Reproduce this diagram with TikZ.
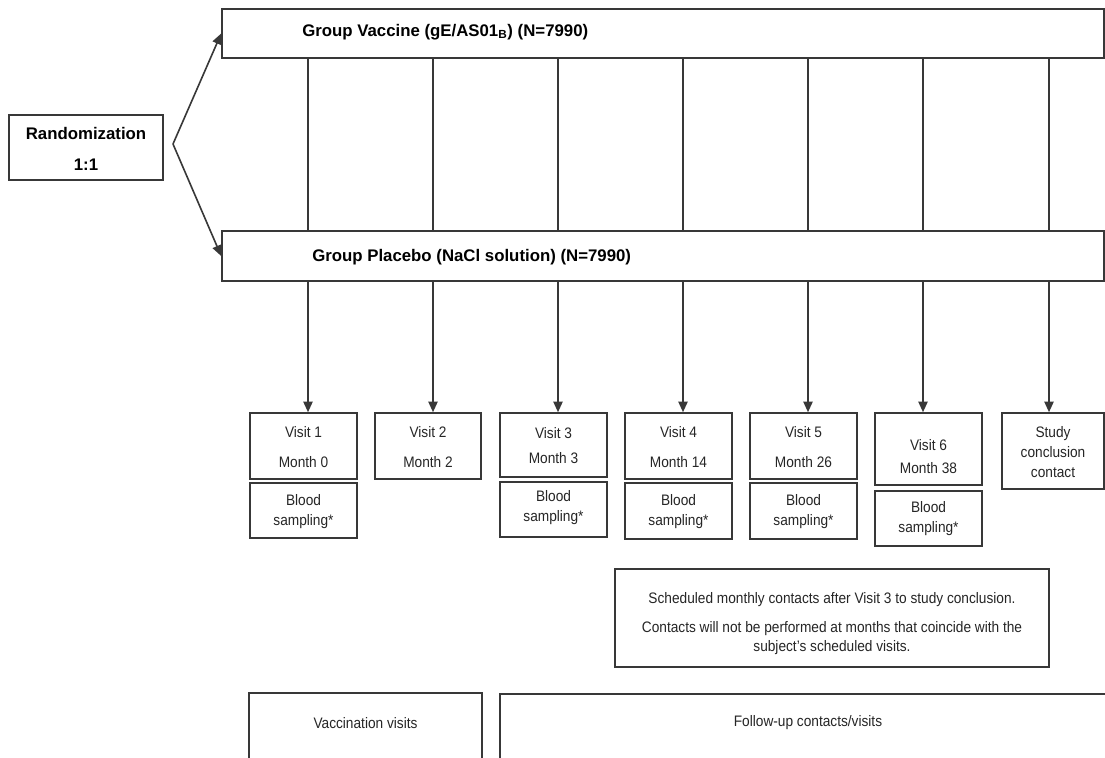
\documentclass[tikz,border=0pt]{standalone}
\usepackage{fontspec}
\setmainfont{Liberation Sans}
\newfontfamily\narrowfont[FakeStretch=0.9]{Liberation Sans}
\usetikzlibrary{arrows.meta,fit}
\begin{document}
\begin{tikzpicture}[x=0.75pt,y=-0.75pt,
  ln/.style={draw=black!78, line width=1.2pt},
  box/.style={ln, rectangle, inner sep=0pt},
  arr/.style={ln, -{Triangle[length=8pt,width=7pt]}},
  lbl/.style={inner sep=0pt, align=center, text=black!85},
  bold/.style={lbl, text=black, font=\bfseries\fontsize{12.6}{23.25}\selectfont},
  reg/.style={lbl, font=\narrowfont\fontsize{11.4}{#1}\selectfont},
  reg/.default=15pt
]
\fill[white] (0,0) rectangle (1105,757);
\useasboundingbox (0,0) rectangle (1105,757);

% column coordinates
\coordinate (c1) at (308,0);
\coordinate (c2) at (433,0);
\coordinate (c3) at (558,0);
\coordinate (c4) at (683,0);
\coordinate (c5) at (808,0);
\coordinate (c6) at (923,0);
\coordinate (c7) at (1049,0);
\coordinate (split) at (173,144);

% main boxes
\node[box, fit={(9,115)(163,180)}] (rand) {};
\node[bold] (randt) at (86,148.5) {Randomization\\1:1};
\node[box, fit={(222,9)(1104,58)}] (vac) {};
\node[bold, anchor=west] (vact) at (302,32) {Group Vaccine (gE/AS01\textsubscript{B}) (N=7990)};
\node[box, fit={(222,231)(1104,281)}] (pla) {};
\node[bold, anchor=west] (plat) at (312,257) {Group Placebo (NaCl solution) (N=7990)};

% randomization arrows
\draw[arr] (split) -- (vac.west);
\draw[arr] (split) -- (pla.west);

% visit boxes
\node[box, fit={(250,413)(357,479)}] (v1) {};
\node[reg=22.5pt] (v1t) at (303.5,447) {Visit 1\\Month 0};
\node[box, fit={(250,483)(357,538)}] (b1) {};
\node[reg] (b1t) at (303.5,512) {Blood\\sampling*};

\node[box, fit={(375,413)(481,479)}] (v2) {};
\node[reg=22.5pt] (v2t) at (428,447) {Visit 2\\Month 2};

\node[box, fit={(500,413)(607,477)}] (v3) {};
\node[reg=18.75pt] (v3t) at (553.5,445.5) {Visit 3\\Month 3};
\node[box, fit={(500,482)(607,537)}] (b3) {};
\node[reg] (b3t) at (553.5,508) {Blood\\sampling*};

\node[box, fit={(625,413)(732,479)}] (v4) {};
\node[reg=22.5pt] (v4t) at (678.5,447) {Visit 4\\Month 14};
\node[box, fit={(625,483)(732,539)}] (b4) {};
\node[reg] (b4t) at (678.5,512) {Blood\\sampling*};

\node[box, fit={(750,413)(857,479)}] (v5) {};
\node[reg=22.5pt] (v5t) at (803.5,447) {Visit 5\\Month 26};
\node[box, fit={(750,483)(857,539)}] (b5) {};
\node[reg] (b5t) at (803.5,512) {Blood\\sampling*};

\node[box, fit={(875,413)(982,485)}] (v6) {};
\node[reg=17.25pt] (v6t) at (928.5,456.5) {Visit 6\\Month 38};
\node[box, fit={(875,491)(982,546)}] (b6) {};
\node[reg] (b6t) at (928.5,518.5) {Blood\\sampling*};

\node[box, fit={(1002,413)(1104,489)}] (st) {};
\node[reg] (stt) at (1053,452) {Study\\conclusion\\contact};

% connectors between group boxes
\foreach \c in {c1,c2,c3,c4,c5,c6,c7}
  \draw[ln] (vac.south -| \c) -- (pla.north -| \c);

% arrows to visits
\draw[arr] (pla.south -| c1) -- (v1.north -| c1);
\draw[arr] (pla.south -| c2) -- (v2.north -| c2);
\draw[arr] (pla.south -| c3) -- (v3.north -| c3);
\draw[arr] (pla.south -| c4) -- (v4.north -| c4);
\draw[arr] (pla.south -| c5) -- (v5.north -| c5);
\draw[arr] (pla.south -| c6) -- (v6.north -| c6);
\draw[arr] (pla.south -| c7) -- (st.north -| c7);

% scheduled contacts box
\node[box, fit={(615,569)(1049,667)}] (sched) {};
\node[reg=14.25pt] (schedt) at (832,624) {Scheduled monthly contacts after Visit 3 to study conclusion.\\[7.5pt]Contacts will not be performed at months that coincide with the\\subject’s scheduled visits.};

% bottom boxes
\node[box, fit={(249,693)(482,775)}] (vv) {};
\node[reg] (vvt) at (365.5,723) {Vaccination visits};
\node[box, fit={(500,694)(1120,775)}] (fu) {};
\node[reg] (fut) at (808,723) {Follow-up contacts/visits};
\end{tikzpicture}
\end{document}
